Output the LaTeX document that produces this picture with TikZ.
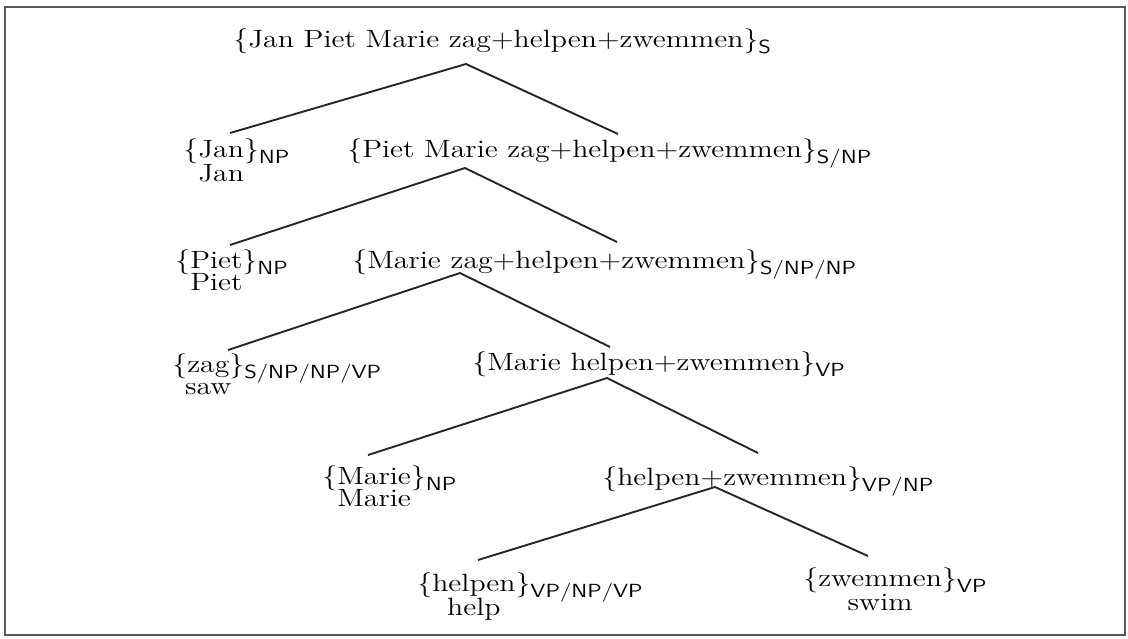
\documentclass[tikz,border=0pt]{standalone}
\usepackage{graphicx}
\newsavebox\glbox
\newcommand\glw[3]{\sbox\glbox{#1}\usebox\glbox\llap{\raisebox{-#3}[0pt][0pt]{\makebox[\wd\glbox][c]{#2}}}}
\newcommand\cat[1]{\raisebox{-3pt}{\fontsize{9.5}{10}\sffamily #1}}
\newcommand\wide[1]{\scalebox{1.19}[1]{#1}}
\begin{document}
\begin{tikzpicture}[x=0.5pt,y=-0.5pt,
  lbl/.style={inner sep=0pt,anchor=base west,font=\fontsize{12.5}{15}\selectfont},
  branch/.style={line width=0.95pt,black!85}]
\useasboundingbox (0,0) rectangle (1128,638);
\draw[line width=1.2pt,black!65] (5,7) rectangle (1125,635);
\node[lbl] (root) at (233,47) {\wide{\{Jan Piet Marie zag+helpen+zwemmen\}\cat{S}}};
\node[lbl] (jan) at (183,157) {\wide{\{\glw{Jan}{Jan}{12pt}\}\cat{NP}}};
\node[lbl] (s1) at (347,157) {\wide{\{Piet Marie zag+helpen+zwemmen\}\cat{S/NP}}};
\node[lbl] (piet) at (175,268) {\wide{\{\glw{Piet}{Piet}{11pt}\}\cat{NP}}};
\node[lbl] (s2) at (352,268) {\wide{\{Marie zag+helpen+zwemmen\}\cat{S/NP/NP}}};
\node[lbl] (zag) at (172,372) {\wide{\{\glw{zag}{saw}{11pt}\}\cat{S/NP/NP/VP}}};
\node[lbl] (s3) at (472,370) {\wide{\{Marie helpen+zwemmen\}\cat{VP}}};
\node[lbl] (marie) at (322,484) {\wide{\{\glw{Marie}{Marie}{11pt}\}\cat{NP}}};
\node[lbl] (s4) at (602,485) {\wide{\{helpen+zwemmen\}\cat{VP/NP}}};
\node[lbl] (helpen) at (417,591) {\wide{\{\glw{helpen}{help}{12pt}\}\cat{VP/NP/VP}}};
\node[lbl] (zwemmen) at (803,586) {\wide{\{\glw{zwemmen}{swim}{12pt}\}\cat{VP}}};
% branch points
\coordinate (a1) at (466,64);  \coordinate (l1) at (230,133); \coordinate (r1) at (618,134);
\coordinate (a2) at (465,168); \coordinate (l2) at (230,245); \coordinate (r2) at (617,242);
\coordinate (a3) at (460,273); \coordinate (l3) at (228,350); \coordinate (r3) at (610,347);
\coordinate (a4) at (607,378); \coordinate (l4) at (368,455); \coordinate (r4) at (758,453);
\coordinate (a5) at (715,487); \coordinate (l5) at (478,560); \coordinate (r5) at (868,556);
\draw[branch] (l1) -- (a1) -- (r1);
\draw[branch] (l2) -- (a2) -- (r2);
\draw[branch] (l3) -- (a3) -- (r3);
\draw[branch] (l4) -- (a4) -- (r4);
\draw[branch] (l5) -- (a5) -- (r5);
\end{tikzpicture}
\end{document}
